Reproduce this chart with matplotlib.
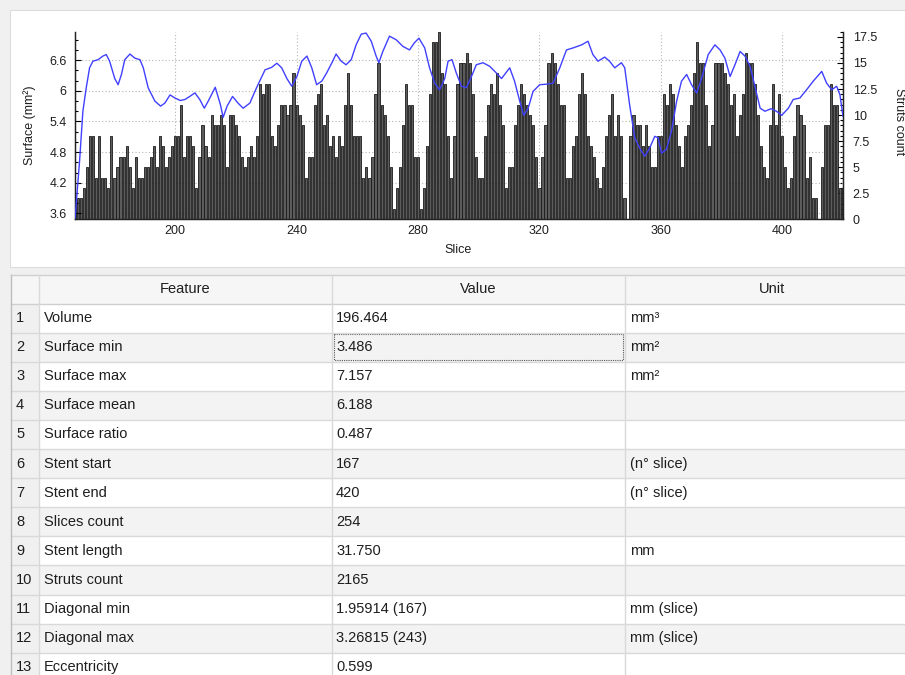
import matplotlib

matplotlib.use("Agg")
import matplotlib.pyplot as plt
import numpy as np
from matplotlib.patches import Rectangle
from matplotlib.ticker import FormatStrFormatter, MultipleLocator
from matplotlib.transforms import blended_transform_factory

plt.rcParams["font.family"] = ["Liberation Sans", "DejaVu Sans"]

# struts count per slice, slices 167..420
FIRST_SLICE = 167
STRUTS = [
    2, 2, 2, 3, 5, 8, 8, 4, 8, 4,
    4, 3, 8, 4, 5, 6, 6, 7, 5, 3,
    6, 4, 4, 5, 5, 6, 7, 5, 8, 7,
    5, 6, 7, 8, 8, 11, 6, 8, 8, 7,
    3, 6, 9, 7, 6, 10, 9, 9, 10, 9,
    5, 10, 10, 9, 8, 6, 5, 6, 7, 6,
    8, 13, 12, 13, 13, 8, 7, 9, 11, 11,
    10, 11, 14, 11, 10, 9, 4, 6, 6, 11,
    12, 13, 9, 10, 7, 8, 6, 8, 7, 11,
    14, 11, 8, 8, 8, 4, 5, 4, 6, 12,
    15, 11, 10, 8, 5, 1, 3, 5, 9, 13,
    11, 11, 6, 6, 1, 3, 7, 12, 17, 17,
    18, 14, 13, 8, 4, 8, 13, 15, 15, 16,
    15, 12, 6, 4, 4, 8, 11, 13, 12, 14,
    11, 9, 3, 5, 5, 9, 11, 13, 12, 11,
    10, 9, 6, 3, 6, 9, 15, 16, 15, 13,
    11, 11, 4, 4, 7, 8, 12, 14, 12, 8,
    7, 6, 4, 3, 5, 8, 10, 12, 8, 10,
    8, 2, 0, 8, 10, 9, 9, 7, 9, 7,
    5, 5, 8, 8, 12, 11, 13, 12, 9, 7,
    5, 8, 9, 11, 14, 17, 15, 15, 11, 7,
    9, 15, 15, 15, 14, 13, 11, 12, 8, 10,
    12, 16, 15, 15, 13, 10, 7, 5, 4, 9,
    13, 9, 12, 8, 5, 3, 4, 8, 11, 10,
    9, 4, 6, 2, 2, 0, 5, 9, 9, 13,
    11, 11, 3, 3,
]
SLICES = np.arange(FIRST_SLICE, FIRST_SLICE + len(STRUTS))

# surface curve (mm^2)
SURF_SLICE = [
    167, 168.5, 169.6, 170.7, 171.8, 172.9, 174.6, 176.2, 177.3, 178.4,
    180.1, 181.2, 182.3, 183.4, 185.1, 186.7, 188.4, 189.5, 191.1, 193.3,
    195.2, 196.6, 198.3, 199.9, 201.7, 203.2, 204.8, 206.5, 208.1, 209.6,
    210.9, 213.2, 214.9, 215.8, 217.1, 218.9, 220.7, 222.4, 224.6, 226.8,
    229.6, 231.8, 233.5, 235.1, 236.8, 238.4, 240.1, 241.7, 243.4, 245.0,
    246.6, 248.3, 249.9, 251.9, 253.0, 254.7, 256.3, 258.0, 259.6, 261.3,
    262.9, 264.6, 266.2, 267.1, 268.4, 270.6, 272.8, 275.0, 277.2, 278.8,
    280.3, 282.2, 283.8, 285.5, 287.1, 288.8, 289.9, 291.2, 292.6, 294.3,
    295.9, 297.6, 299.2, 301.4, 303.6, 305.8, 307.5, 308.9, 310.2, 311.8,
    313.5, 314.8, 316.3, 317.9, 320.1, 322.3, 324.5, 326.7, 328.9, 331.1,
    333.9, 336.0, 337.6, 339.3, 341.5, 343.1, 344.8, 347.0, 348.1, 349.7,
    351.4, 353.0, 354.7, 356.3, 358.0, 359.1, 360.2, 361.8, 363.5, 365.2,
    366.8, 368.5, 370.1, 371.8, 373.4, 375.6, 377.8, 379.5, 381.1, 382.8,
    384.4, 386.1, 387.7, 389.4, 391.1, 392.7, 394.3, 396.3, 398.1, 399.8,
    402.0, 403.6, 405.8, 408.0, 410.2, 413.0, 414.6, 416.3, 417.9, 419.0,
    420.0,
]
SURF_VALUE = [
    3.49, 4.62, 5.60, 6.06, 6.45, 6.58, 6.61, 6.68, 6.71, 6.58,
    6.24, 6.12, 6.32, 6.61, 6.72, 6.64, 6.61, 6.45, 6.06, 5.80,
    5.70, 5.76, 5.92, 5.86, 5.81, 5.83, 5.89, 5.96, 5.83, 5.66,
    5.80, 6.07, 5.73, 5.48, 5.70, 5.89, 5.76, 5.66, 5.76, 6.06,
    6.41, 6.46, 6.54, 6.45, 6.24, 6.09, 6.28, 6.58, 6.68, 6.45,
    6.12, 6.19, 6.35, 6.58, 6.72, 6.58, 6.51, 6.61, 6.90, 7.11,
    7.13, 6.97, 6.68, 6.55, 6.77, 7.07, 7.00, 6.87, 6.80, 6.94,
    7.03, 6.84, 6.45, 6.15, 6.02, 6.24, 6.58, 6.61, 6.35, 6.09,
    6.06, 6.28, 6.51, 6.55, 6.48, 6.35, 6.24, 6.35, 6.45, 6.19,
    5.80, 5.52, 5.66, 5.99, 6.12, 6.13, 6.15, 6.45, 6.80, 6.84,
    6.90, 6.97, 6.71, 6.58, 6.66, 6.58, 6.45, 6.55, 6.45, 5.73,
    5.08, 4.88, 4.72, 4.88, 5.11, 5.08, 4.78, 4.85, 5.21, 5.80,
    6.19, 6.32, 6.12, 5.96, 6.24, 6.71, 6.90, 6.80, 6.64, 6.28,
    6.51, 6.77, 6.68, 6.48, 6.06, 5.66, 5.60, 5.65, 5.60, 5.52,
    5.66, 5.83, 5.86, 6.02, 6.19, 6.38, 6.15, 6.02, 6.09, 5.92,
    5.50,
]
SURF_MIN, SURF_MAX = 3.486, 7.157
SURF_TICKS = [3.6, 4.2, 4.8, 5.4, 6.0, 6.6]

FEATURES = [
    "Volume", "Surface min", "Surface max", "Surface mean", "Surface ratio",
    "Stent start", "Stent end", "Slices count", "Stent length", "Struts count",
    "Diagonal min", "Diagonal max", "Eccentricity",
]
VALUES = [
    "196.464", "3.486", "7.157", "6.188", "0.487", "167", "420", "254",
    "31.750", "2165", "1.95914 (167)", "3.26815 (243)", "0.599",
]
UNITS = [
    "mm\u00b3", "mm\u00b2", "mm\u00b2", "", "", "(n\u00b0 slice)", "(n\u00b0 slice)", "",
    "mm", "", "mm (slice)", "mm (slice)", "",
]

W, H = 905, 675
TEXT = "#1e1e1e"
LINE = "#d9d9d9"

fig = plt.figure(figsize=(W / 100, H / 100), dpi=100, facecolor="#f0f0f0")

# pixel-space layer for the panel and the table
bg = fig.add_axes([0, 0, 1, 1])
bg.set_xlim(0, W)
bg.set_ylim(H, 0)
bg.axis("off")
bg.add_patch(Rectangle((10, 10), W - 10, 257, facecolor="white", edgecolor="#dcdcdc", lw=0.8))

tab_top = 275.0
head_h = 28.5
row_h = 29.1
col_x = [11, 39, 332, 625]

bg.add_patch(Rectangle((col_x[0], tab_top), W - col_x[0], H - tab_top, facecolor="white", edgecolor="none"))
bg.add_patch(Rectangle((col_x[0], tab_top), W - col_x[0], head_h, facecolor="#f6f6f6", edgecolor="none"))
bg.plot([col_x[0], W], [tab_top + head_h] * 2, color="#cfcfcf", lw=1.0)
bg.plot([col_x[0], W], [tab_top, tab_top], color="#cfcfcf", lw=1.0)

for i, (feat, val, unit) in enumerate(zip(FEATURES, VALUES, UNITS)):
    top = tab_top + head_h + i * row_h
    mid = top + row_h / 2
    fc = "white" if i % 2 == 0 else "#f3f3f3"
    bg.add_patch(Rectangle((col_x[1], top), W - col_x[1], row_h, facecolor=fc, edgecolor="none"))
    bg.add_patch(Rectangle((col_x[0], top), col_x[1] - col_x[0], row_h, facecolor="#f0f0f0", edgecolor="none"))
    bg.plot([col_x[0], W], [top + row_h] * 2, color=LINE, lw=1.0)
    bg.text(16, mid, str(i + 1), fontsize=10.5, color=TEXT, va="center", ha="left")
    bg.text(col_x[1] + 5, mid, feat, fontsize=10.5, color=TEXT, va="center", ha="left")
    bg.text(col_x[2] + 4, mid, val, fontsize=10.5, color=TEXT, va="center", ha="left")
    bg.text(col_x[3] + 5, mid, unit, fontsize=10.5, color=TEXT, va="center", ha="left")

for x in col_x:
    bg.plot([x, x], [tab_top, H], color=LINE if x != col_x[0] else "#bdbdbd", lw=1.0)

head_mid = tab_top + head_h / 2
bg.text((col_x[1] + col_x[2]) / 2, head_mid, "Feature", fontsize=10.5, color=TEXT, ha="center", va="center")
bg.text((col_x[2] + col_x[3]) / 2, head_mid, "Value", fontsize=10.5, color=TEXT, ha="center", va="center")
bg.text(772, head_mid, "Unit", fontsize=10.5, color=TEXT, ha="center", va="center")

# focus frame on the selected cell
sel_top = tab_top + head_h + row_h
bg.add_patch(Rectangle((col_x[2] + 2, sel_top + 1.5), col_x[3] - col_x[2] - 4, row_h - 3,
                       fill=False, edgecolor="#555555", lw=0.8, linestyle=(0, (1, 1))))

# axis titles of the chart
bg.text(30, 125, "Surface (mm\u00b2)", rotation=90, fontsize=9, color=TEXT, ha="center", va="center")
bg.text(899, 122, "Struts count", rotation=270, fontsize=9, color=TEXT, ha="center", va="center")
bg.text(458, 250, "Slice", fontsize=9, color=TEXT, ha="center", va="center")

# chart
ax = fig.add_axes([75 / W, 1 - 219.3 / H, (843 - 75) / W, (219.3 - 31.7) / H])
ax.bar(SLICES, STRUTS, width=0.7, color="#5c5c5c", edgecolor="#1a1a1a", linewidth=0.6, zorder=2)

axl = ax.twinx()
axl.plot(SURF_SLICE, SURF_VALUE, color="#4040ff", lw=1.0, zorder=3)

ax.yaxis.tick_right()
ax.yaxis.set_label_position("right")
axl.yaxis.tick_left()
axl.yaxis.set_label_position("left")

ax.set_xlim(FIRST_SLICE, SLICES[-1])
ax.set_ylim(0, 18)
axl.set_ylim(SURF_MIN, SURF_MAX)

ax.xaxis.set_major_locator(MultipleLocator(40))
ax.xaxis.set_minor_locator(MultipleLocator(10))
ax.yaxis.set_major_locator(MultipleLocator(2.5))
ax.yaxis.set_minor_locator(MultipleLocator(0.5))
ax.yaxis.set_major_formatter(FormatStrFormatter("%g"))
axl.set_yticks(SURF_TICKS)
axl.yaxis.set_major_formatter(FormatStrFormatter("%g"))
axl.yaxis.set_minor_locator(MultipleLocator(0.2))

ax.grid(axis="x", which="major", linestyle=(0, (1, 2)), color="#b5b5b5", lw=0.8)
ax.set_axisbelow(True)
grid_tr = blended_transform_factory(ax.transAxes, axl.transData)
for t in SURF_TICKS:
    ax.plot([0, 1], [t, t], transform=grid_tr, linestyle=(0, (1, 2)), color="#b5b5b5", lw=0.8, zorder=1)

for a in (ax, axl):
    a.spines["top"].set_visible(False)
    for s in ("left", "right", "bottom"):
        a.spines[s].set_color("#222222")
        a.spines[s].set_linewidth(0.9)

ax.tick_params(axis="x", which="major", direction="in", length=4, width=0.8, pad=4, labelsize=9, labelcolor=TEXT)
ax.tick_params(axis="x", which="minor", direction="in", length=2.5, width=0.8)
ax.tick_params(axis="y", which="major", direction="in", length=4, width=0.8, pad=7, labelsize=9, labelcolor=TEXT)
ax.tick_params(axis="y", which="minor", direction="in", length=2.5, width=0.8)
axl.tick_params(axis="y", which="major", direction="in", length=4, width=0.8, pad=6, labelsize=9, labelcolor=TEXT)
axl.tick_params(axis="y", which="minor", direction="in", length=2.5, width=0.8)

fig.savefig("out.png", dpi=100, facecolor=fig.get_facecolor())
